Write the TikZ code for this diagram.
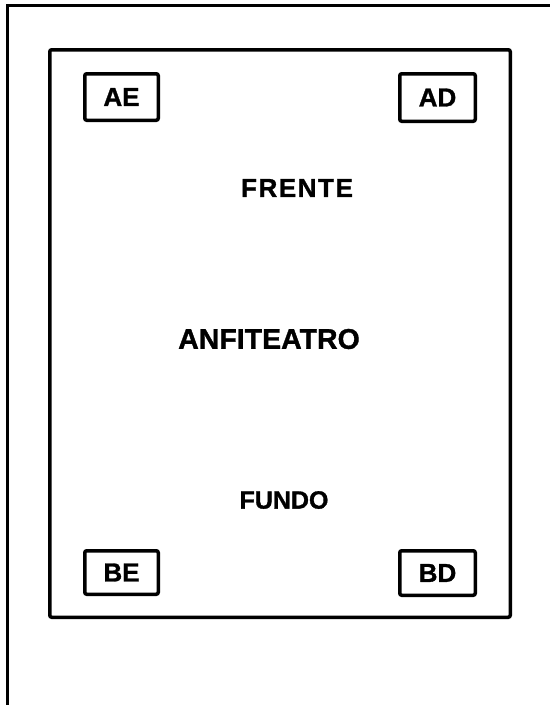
\documentclass[tikz,border=0pt]{standalone}
\usepackage{fontspec}
\setmainfont{Liberation Sans}[BoldFeatures={FakeBold=1.2}]
\newfontfamily\spaced[LetterSpace=6,BoldFeatures={FakeBold=1.2}]{Liberation Sans}
\begin{document}
\begin{tikzpicture}[x=1pt,y=-1pt,
  frame/.style={line width=3pt},
  hall/.style={line width=3.5pt, rounded corners=2pt},
  seat/.style={draw, line width=3.5pt, rounded corners=2pt, minimum width=73.5pt, minimum height=46.5pt, inner sep=0pt, font=\fontsize{26}{26}\selectfont\bfseries},
  label/.style={inner sep=0pt, font=\fontsize{26}{26}\selectfont\bfseries}]
\useasboundingbox (0,0) rectangle (550,705);
\fill[white] (0,0) rectangle (550,705);
% outer frame (left and top edges)
\coordinate (fl) at (7,705);
\coordinate (ftl) at (7,5);
\coordinate (fr) at (550,5);
\draw[frame] (fl) -- (ftl) -- (fr);
% auditorium
\draw[hall] (49.75,49.75) rectangle (510.25,617.25);
\node[seat] (ae) at (121.5,97) {AE};
\node[seat, minimum width=75.5pt, minimum height=47.5pt] (ad) at (437.5,97.5) {AD};
\node[seat, minimum height=43.5pt] (be) at (121.5,572.5) {BE};
\node[seat, minimum width=75.5pt, minimum height=44.5pt] (bd) at (437.5,573) {BD};
\node[label] (frente) at (297,188) {\spaced FRENTE};
\node[label, font=\fontsize{28.5}{28}\selectfont\bfseries] (anf) at (269,339) {ANFITEATRO};
\node[label, font=\fontsize{25}{25}\selectfont\bfseries] (fundo) at (284,500) {FUNDO};
\end{tikzpicture}
\end{document}
